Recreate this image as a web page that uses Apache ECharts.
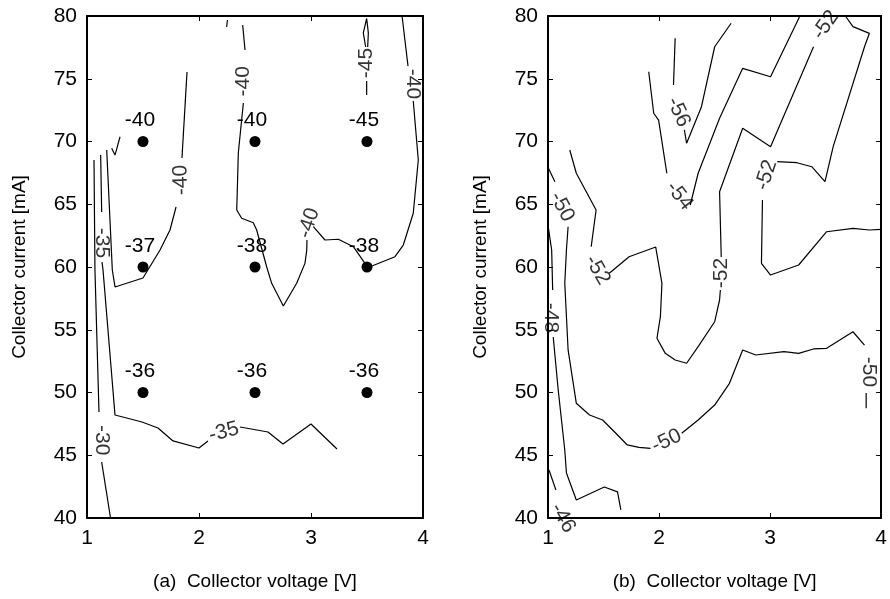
<!DOCTYPE html>
<html>
<head>
<meta charset="utf-8">
<script src="https://cdn.jsdelivr.net/npm/echarts@6/dist/echarts.min.js"></script>
<style>
  html, body { margin: 0; padding: 0; background: #fff; }
  #main { width: 890px; height: 599px; }
</style>
</head>
<body>
<div id="main"></div>
<script>
var chartDom = document.getElementById('main');
var myChart = echarts.init(chartDom);
var option;

var FONT = 'Liberation Sans, Arial, Helvetica, sans-serif';

// measured points (x = collector voltage, y = collector current)
let dotX = [1.5, 2.5, 3.5];
let dotY = [70, 60, 50];
let dotText = [
    ['-40', '-40', '-45'],
    ['-37', '-38', '-38'],
    ['-36', '-36', '-36']
];

// panel (a) contour pieces, broken where the labels sit
let leftContours = [
    [[1.0625, 68.53], [1.071, 59.76], [1.107, 48.45]],
    [[1.131, 44.46], [1.21, 40]],
    [[1.122, 68.92], [1.131, 64.38]],
    [[1.134, 60.40], [1.143, 59.76], [1.25, 48.21], [1.491, 47.65], [1.634, 47.17], [1.768, 46.14], [2.0, 45.58], [2.08, 46.14]],
    [[2.366, 47.25], [2.616, 46.85], [2.75, 45.90], [3.0, 47.49], [3.232, 45.50]],
    [[1.176, 69.32], [1.226, 59.76], [1.25, 58.41], [1.5, 59.12], [1.652, 61.35], [1.741, 62.95], [1.795, 64.78]],
    [[1.848, 68.69], [1.893, 75.54]],
    [[1.22, 69.46], [1.25, 68.92], [1.295, 70.38]],
    [[2.254, 79.68], [2.247, 79.12]],
    [[2.39, 79.28], [2.411, 77.29]],
    [[2.396, 73.07], [2.351, 69.08], [2.337, 64.54], [2.381, 63.88], [2.485, 63.53], [2.515, 62.95], [2.604, 60.02], [2.649, 58.70], [2.753, 56.89], [2.872, 58.70], [2.946, 60.29], [2.962, 61.35], [2.964, 62.15]],
    [[3.021, 63.21], [3.125, 62.15], [3.244, 62.21], [3.378, 61.62], [3.482, 60.29], [3.527, 60.02], [3.75, 60.82], [3.824, 61.75], [3.913, 64.28], [3.958, 68.53], [3.913, 73.23]],
    [[3.866, 76.02], [3.813, 80]],
    [[3.497, 73.71], [3.497, 74.82]],
    [[3.488, 77.53], [3.467, 78.65], [3.497, 79.8], [3.512, 78.65], [3.506, 77.53]]
];
// [x, y, text, rotation]
let leftLabels = [
    [1.134, 46.2, '-30', -90],
    [1.134, 61.91, '-35', -90],
    [2.223, 46.85, '-35', 15],
    [1.839, 66.93, '-40', 92],
    [2.397, 74.8, '-40', 90],
    [2.982, 63.51, '-40', 72],
    [3.911, 74.58, '-40', -90],
    [3.496, 76.25, '-45', 90]
];

// panel (b)
let rightContours = [
    [[2.145, 78.22], [2.13, 74.5]],
    [[2.228, 70.92], [2.248, 69.86], [2.382, 72.77], [2.501, 77.55], [2.649, 79.42]],
    [[1.907, 75.56], [1.952, 72.25], [1.996, 71.71], [2.07, 67.47]],
    [[2.281, 64.94], [2.352, 67.47], [2.545, 71.85], [2.753, 75.83], [3.004, 75.16], [3.264, 79.92]],
    [[1.196, 69.32], [1.255, 67.47], [1.433, 64.54], [1.389, 61.62]],
    [[1.552, 59.5], [1.73, 60.82], [1.97, 61.59], [2.026, 58.7], [2.012, 56.04], [1.981, 54.32], [2.056, 53.12], [2.145, 52.59], [2.248, 52.33], [2.352, 53.65], [2.501, 55.64], [2.545, 57.37], [2.552, 58.17]],
    [[2.56, 60.8], [2.545, 66.0], [2.753, 71.05], [3.004, 69.59], [3.391, 77.55]],
    [[3.678, 80], [3.746, 79.15], [3.894, 78.62], [3.85, 77.55], [3.568, 69.59], [3.494, 66.8], [3.375, 67.99], [3.242, 68.31], [3.064, 68.39]],
    [[2.931, 65.34], [2.922, 60.29], [3.004, 59.36], [3.257, 60.16], [3.509, 62.81], [3.746, 63.08], [3.894, 62.95], [3.998, 63.0]],
    [[1.003, 67.89], [1.062, 66.8]],
    [[1.181, 63.21], [1.166, 61.35], [1.151, 58.7], [1.181, 53.39], [1.255, 49.14], [1.374, 48.21], [1.492, 47.81], [1.611, 46.75], [1.714, 45.82], [1.819, 45.63], [1.923, 45.55]],
    [[2.204, 46.75], [2.352, 47.81], [2.501, 49.0], [2.634, 50.73], [2.753, 53.39], [2.871, 52.99], [3.124, 53.25], [3.257, 53.12], [3.391, 53.47], [3.509, 53.52], [3.746, 54.84], [3.85, 53.78]],
    [[3.865, 49.96], [3.865, 48.74]],
    [[1.004, 63.11], [1.033, 61.35], [1.042, 58.17]],
    [[1.047, 54.42], [1.092, 50.2], [1.151, 45.42], [1.166, 43.59], [1.255, 41.43], [1.507, 42.47], [1.626, 42.08], [1.656, 40.64]],
    [[1.009, 43.82], [1.071, 42.23]]
];
let rightLabels = [
    [2.174, 72.35, '-56', -65],
    [2.183, 65.66, '-54', -52],
    [1.445, 59.76, '-52', -60],
    [2.557, 59.52, '-52', 90],
    [3.5, 79.28, '-52', 55],
    [2.966, 67.33, '-52', 72],
    [1.125, 64.78, '-50', -62],
    [2.068, 46.14, '-50', 25],
    [3.891, 51.63, '-50', -90],
    [1.027, 55.94, '-48', -90],
    [1.133, 40.0, '-46', -60]
];

let xTicks = [1, 2, 3, 4];
let captions = ['(a)  Collector voltage [V]', '(b)  Collector voltage [V]'];
let yName = 'Collector current [mA]';

let grids = [
    { left: 87, top: 16, width: 336, height: 502 },
    { left: 548, top: 16, width: 337, height: 502 }
];

function axisCommon() {
    return {
        type: 'value',
        axisLine: { show: true, onZero: false, lineStyle: { color: '#000', width: 2 } },
        axisTick: { show: true, inside: true, length: 5, lineStyle: { color: '#000', width: 1 } },
        splitLine: { show: false }
    };
}

let xAxes = [], yAxes = [], series = [];
for (let g = 0; g < 2; g++) {
    xAxes.push(Object.assign(axisCommon(), {
        gridIndex: g, position: 'bottom', min: xTicks[0], max: xTicks[xTicks.length - 1], interval: 1,
        axisLabel: { color: '#000', fontSize: 21, fontFamily: FONT, margin: 10 },
        name: captions[g], nameLocation: 'middle', nameGap: 54,
        nameTextStyle: { color: '#000', fontSize: 19, fontFamily: FONT }
    }));
    xAxes.push(Object.assign(axisCommon(), {
        gridIndex: g, position: 'top', min: 1, max: 4, interval: 1,
        axisLabel: { show: false }
    }));
    yAxes.push(Object.assign(axisCommon(), {
        gridIndex: g, position: 'left', min: 40, max: 80, interval: 5,
        axisLabel: { color: '#000', fontSize: 21, fontFamily: FONT, margin: 10 },
        name: yName, nameLocation: 'middle', nameGap: 58,
        nameTextStyle: { color: '#000', fontSize: 19, fontFamily: FONT }
    }));
    yAxes.push(Object.assign(axisCommon(), {
        gridIndex: g, position: 'right', min: 40, max: 80, interval: 5,
        axisLabel: { show: false }
    }));
}

function addContours(list, g) {
    list.forEach(function(seg) {
        series.push({
            type: 'line',
            xAxisIndex: g * 2, yAxisIndex: g * 2,
            data: seg,
            symbol: 'none',
            silent: true,
            lineStyle: { color: '#000', width: 1.2 }
        });
    });
}

function addLabels(list, g) {
    series.push({
        type: 'scatter',
        xAxisIndex: g * 2, yAxisIndex: g * 2,
        symbolSize: 0,
        silent: true,
        data: list.map(function(l) {
            return {
                value: [l[0], l[1]],
                label: {
                    show: true, formatter: l[2], rotate: l[3],
                    position: 'inside', align: 'center', verticalAlign: 'middle',
                    color: '#000', fontSize: 21, fontFamily: FONT
                }
            };
        })
    });
}

addContours(leftContours, 0);
addLabels(leftLabels, 0);
addContours(rightContours, 1);
addLabels(rightLabels, 1);

// the measured points of panel (a)
let dots = [];
for (let r = 0; r < dotY.length; r++) {
    for (let c = 0; c < dotX.length; c++) {
        dots.push({ value: [dotX[c], dotY[r]], name: dotText[r][c] });
    }
}
series.push({
    type: 'scatter',
    xAxisIndex: 0, yAxisIndex: 0,
    symbol: 'circle',
    symbolSize: 11,
    itemStyle: { color: '#000', opacity: 1 },
    label: {
        show: true, position: 'top', distance: 5, offset: [-3, 0],
        formatter: '{b}', color: '#000', fontSize: 21, fontFamily: FONT
    },
    data: dots
});

option = {
    animation: false,
    backgroundColor: '#fff',
    grid: grids,
    xAxis: xAxes,
    yAxis: yAxes,
    series: series
};

option && myChart.setOption(option);
</script>
</body>
</html>
